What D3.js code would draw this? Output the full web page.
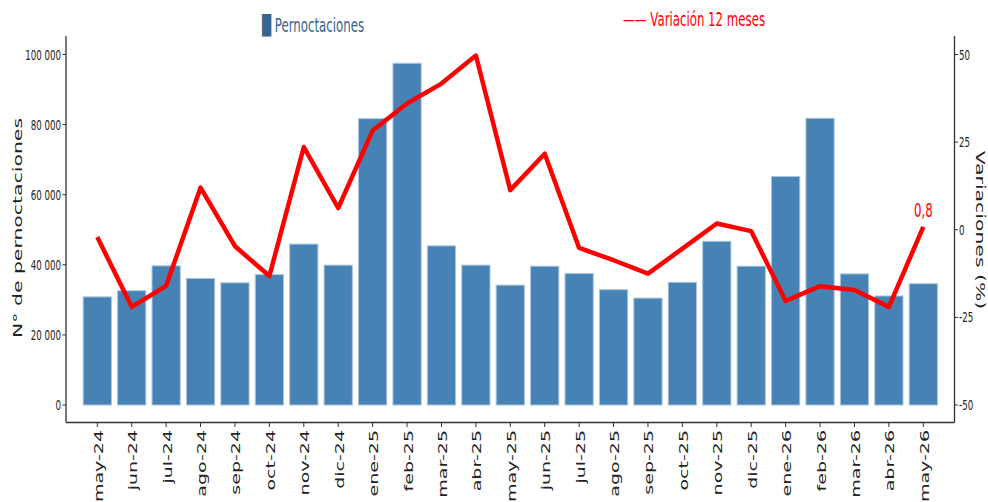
<!DOCTYPE html>
<html>
<head>
  <meta charset="utf-8">
  <title>Pernoctaciones</title>
  <script src="https://cdn.jsdelivr.net/npm/d3@7/dist/d3.min.js"></script>
  <style>
    body { margin: 0; background: #fff; }
    svg text { font-family: "DejaVu Sans", sans-serif; }
  </style>
</head>
<body>
<div id="chart"></div>
<script>
// data
var meses = ['may-24','jun-24','jul-24','ago-24','sep-24','oct-24','nov-24','dic-24',
  'ene-25','feb-25','mar-25','abr-25','may-25','jun-25','jul-25','ago-25','sep-25',
  'oct-25','nov-25','dic-25','ene-26','feb-26','mar-26','abr-26','may-26'];
var pernoctaciones = [30850, 32600, 39700, 36100, 34850, 37200, 45900, 39900,
  81700, 97500, 45400, 39900, 34200, 39600, 37500, 32900, 30500,
  35000, 46700, 39600, 65200, 81800, 37400, 31100, 34600];
var variacion = [-2.1, -22.0, -16.0, 12.0, -4.7, -13.2, 23.6, 6.2,
  28.3, 36.0, 41.7, 49.7, 11.3, 21.7, -5.2, -8.7, -12.5,
  -5.4, 1.8, -0.4, -20.3, -16.1, -17.2, -22.0, 0.8];
var ticksIzq = [0, 20000, 40000, 60000, 80000, 100000];
var ticksDer = [-50, -25, 0, 25, 50];

var W = 988, H = 502, SX = 0.62;

var svg = d3.select('#chart').append('svg')
  .attr('width', W)
  .attr('height', H);

var x = d3.scalePoint().domain(meses).range([97.3, 923.3]);
var y = d3.scaleLinear().domain([0, 100000]).range([405, 54.5]);
var y2 = d3.scaleLinear().domain([-50, 50]).range([405, 54.5]);
var bw = x.step() * 0.82;

var loc = d3.formatLocale({ decimal: ',', thousands: ' ', grouping: [3], currency: ['', ''] });
var fmt = loc.format(',d');

// squeezed text, like the reference
function txt(g, xx, yy, rot) {
  return g.append('text')
    .attr('transform', 'translate(' + xx + ',' + yy + ') scale(' + SX + ',1)' + (rot ? ' rotate(' + rot + ')' : ''));
}

// bars
svg.append('g').selectAll('rect')
  .data(pernoctaciones)
  .enter().append('rect')
  .attr('x', function(d, i) { return x(meses[i]) - bw / 2; })
  .attr('y', function(d) { return y(d); })
  .attr('width', bw)
  .attr('height', function(d) { return y(0) - y(d); })
  .attr('fill', '#4682b4')
  .attr('stroke', '#a9c5dc')
  .attr('stroke-width', 1);

// line
var line = d3.line()
  .x(function(d, i) { return x(meses[i]); })
  .y(function(d) { return y2(d); });
svg.append('path')
  .datum(variacion)
  .attr('d', line)
  .attr('fill', 'none')
  .attr('stroke', 'red')
  .attr('stroke-width', 4.5)
  .attr('stroke-linejoin', 'round');

// last value label
var last = variacion.length - 1;
txt(svg, x(meses[last]), y2(variacion[last]) - 10)
  .attr('text-anchor', 'middle')
  .attr('font-size', 19)
  .attr('fill', 'red')
  .text(String(variacion[last]).replace('.', ','));

// axes
var axCol = '#333';
svg.append('line').attr('x1', 66).attr('x2', 66).attr('y1', 36).attr('y2', 422.5).attr('stroke', axCol).attr('stroke-width', 1.3);
svg.append('line').attr('x1', 954.5).attr('x2', 954.5).attr('y1', 36).attr('y2', 422.5).attr('stroke', axCol).attr('stroke-width', 1.3);
svg.append('line').attr('x1', 66).attr('x2', 954.5).attr('y1', 422.5).attr('y2', 422.5).attr('stroke', axCol).attr('stroke-width', 1.3);

var gl = svg.append('g');
ticksIzq.forEach(function(t) {
  gl.append('line').attr('x1', 62.5).attr('x2', 66).attr('y1', y(t)).attr('y2', y(t)).attr('stroke', axCol);
  txt(gl, 61, y(t) + 5).attr('text-anchor', 'end').attr('font-size', 14).attr('fill', '#222').text(fmt(t));
});

var gr = svg.append('g');
ticksDer.forEach(function(t) {
  gr.append('line').attr('x1', 954.5).attr('x2', 958).attr('y1', y2(t)).attr('y2', y2(t)).attr('stroke', axCol);
  txt(gr, 959, y2(t) + 5).attr('font-size', 14).attr('fill', '#222').text(String(t));
});

var gx = svg.append('g');
meses.forEach(function(m) {
  gx.append('line').attr('x1', x(m)).attr('x2', x(m)).attr('y1', 422.5).attr('y2', 427).attr('stroke', axCol);
  txt(gx, x(m) + 5.5, 430, -90).attr('text-anchor', 'end').attr('font-size', 19).attr('fill', '#222').text(m);
});

// axis titles
txt(svg, 22, 228, -90).attr('text-anchor', 'middle').attr('font-size', 20.4).attr('fill', '#222').text('N° de pernoctaciones');
txt(svg, 976, 230, 90).attr('text-anchor', 'middle').attr('font-size', 20.4).attr('fill', '#222').text('Variaciones (%)');

// legend
txt(svg, 262, 32).attr('font-size', 19).attr('fill', '#35668f').text('\u2588 Pernoctaciones');
txt(svg, 623, 26).attr('font-size', 19).attr('fill', 'red').text('\u2014\u2014 Variación 12 meses');
</script>
</body>
</html>
